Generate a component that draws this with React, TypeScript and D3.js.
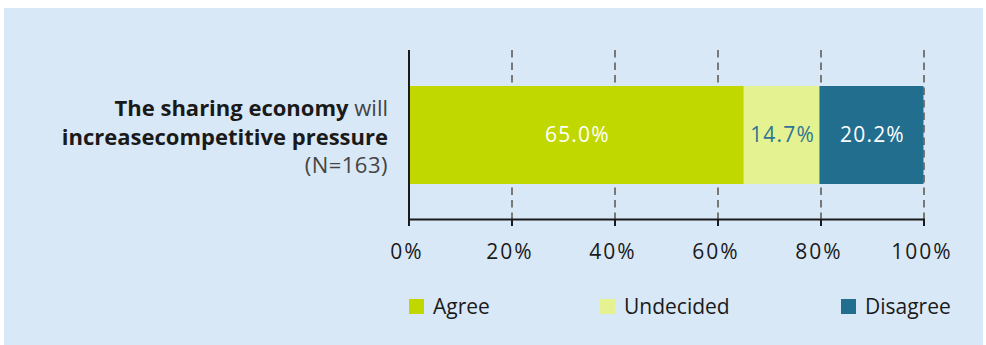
import React, { useEffect, useRef } from "react";
import * as d3 from "d3";

const categories = ["Agree", "Undecided", "Disagree"];
const values = [65.0, 14.7, 20.2];
const colors = ["#c0d800", "#e4f291", "#226e8f"];
const labelColors = ["#ffffff", "#2f7593", "#ffffff"];
const ticks = [0, 20, 40, 60, 80, 100];
const question = { bold1: "The sharing economy", normal1: " will", bold2: "increasecompetitive pressure", n: "(N=163)" };

const W = 986, H = 345;
const FONT = "'Open Sans', 'Noto Sans', sans-serif";

export default function App() {
  const ref = useRef<SVGSVGElement | null>(null);
  useEffect(() => {
    const svg = d3.select(ref.current);
    svg.selectAll("*").remove();

    svg.append("rect").attr("x", 4).attr("y", 8).attr("width", 979).attr("height", 337).attr("fill", "#d9e8f7");

    const x = d3.scaleLinear().domain([0, 100]).range([409, 924]);
    const barY = 86, barH = 98;

    // gridlines
    svg.append("g").selectAll("line").data(ticks.filter(t => t > 0)).join("line")
      .attr("x1", d => x(d)).attr("x2", d => x(d)).attr("y1", 50).attr("y2", 219)
      .attr("stroke", "#787878").attr("stroke-width", 2).attr("stroke-dasharray", "7.5,5");

    // stacked bars
    let acc = 0;
    const segs = values.map((v, i) => { const s = { x0: acc, x1: acc + v, v, i }; acc += v; return s; });
    const g = svg.append("g");
    g.selectAll("rect").data(segs).join("rect")
      .attr("x", d => x(d.x0)).attr("width", d => x(d.x1) - x(d.x0))
      .attr("y", barY).attr("height", barH).attr("fill", d => colors[d.i]);
    g.selectAll("text").data(segs).join("text")
      .attr("x", d => (x(d.x0) + x(d.x1)) / 2 + 1).attr("y", barY + barH / 2 + 7)
      .attr("text-anchor", "middle").attr("font-family", FONT).attr("font-size", 21)
      .attr("letter-spacing", 1.2)
      .attr("fill", d => labelColors[d.i]).text(d => d.v.toFixed(1) + "%");

    // axes
    svg.append("line").attr("x1", 409).attr("x2", 409).attr("y1", 50).attr("y2", 226).attr("stroke", "#1a1a1a").attr("stroke-width", 2);
    svg.append("line").attr("x1", 408).attr("x2", 925).attr("y1", 219.5).attr("y2", 219.5).attr("stroke", "#1a1a1a").attr("stroke-width", 2);
    const ax = svg.append("g");
    ax.selectAll("line").data(ticks).join("line")
      .attr("x1", d => x(d)).attr("x2", d => x(d)).attr("y1", 219).attr("y2", 226)
      .attr("stroke", "#1a1a1a").attr("stroke-width", 2);
    ax.selectAll("text").data(ticks).join("text")
      .attr("x", d => x(d) - 2).attr("y", 259).attr("text-anchor", "middle")
      .attr("font-family", FONT).attr("font-size", 21).attr("letter-spacing", 2).attr("fill", "#1a1a1a")
      .text(d => d + "%");

    // category label
    const lab = svg.append("text").attr("text-anchor", "end").attr("font-family", FONT).attr("font-size", 22).attr("fill", "#1a1a1a");
    const t1 = lab.append("tspan").attr("x", 388).attr("y", 116);
    t1.append("tspan").attr("font-weight", "bold").text(question.bold1);
    t1.append("tspan").attr("fill", "#444").text(question.normal1);
    lab.append("tspan").attr("x", 388).attr("y", 145).attr("font-weight", "bold").text(question.bold2);
    lab.append("tspan").attr("x", 388).attr("y", 173).attr("fill", "#444").attr("letter-spacing", 0.5).text(question.n);

    // legend
    const legX = [409, 600, 841];
    const lg = svg.append("g").selectAll("g").data(categories).join("g")
      .attr("transform", (d, i) => `translate(${legX[i]},299)`);
    lg.append("rect").attr("width", 15).attr("height", 15).attr("fill", (d, i) => colors[i]);
    lg.append("text").attr("x", 24).attr("y", 15).attr("font-family", FONT).attr("font-size", 21)
      .attr("fill", "#1a1a1a").text(d => d);
  }, []);
  return (
    <svg ref={ref} width={W} height={H} style={{ position: "absolute", left: 0, top: 0 }} />
  );
}
